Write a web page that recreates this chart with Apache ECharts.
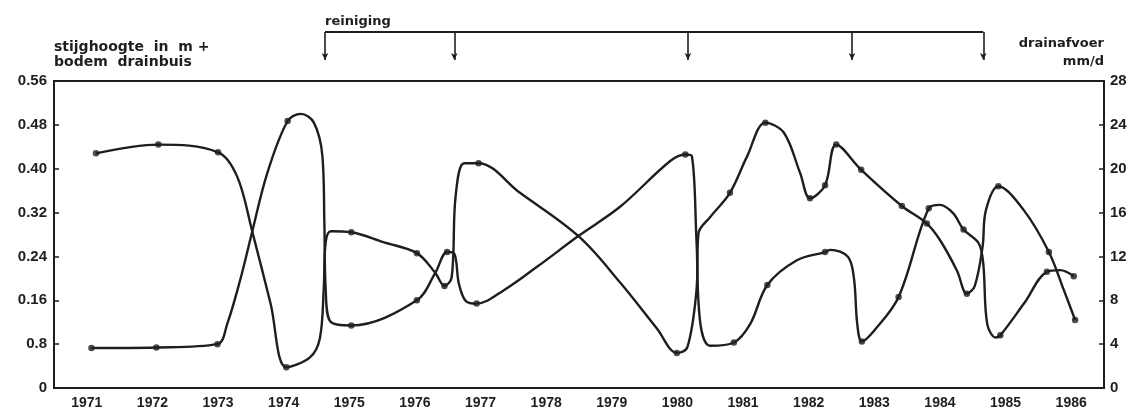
<!DOCTYPE html>
<html>
<head>
<meta charset="utf-8">
<script src="https://cdn.jsdelivr.net/npm/echarts@6/dist/echarts.min.js"></script>
<style>
  html, body { margin: 0; padding: 0; background: #fff; }
  #chart { width: 1135px; height: 413px; }
</style>
</head>
<body>
<div id="chart"></div>
<script>
// years on the x axis (one band per year)
const years = ['1971','1972','1973','1974','1975','1976','1977','1978',
  '1979','1980','1981','1982','1983','1984','1985','1986'];

// left axis tick labels as printed (0.08 printed as "0.8")
const leftTickLabels = ['0','0.8','0.16','0.24','0.32','0.40','0.48','0.56'];

// drain cleanings (reiniging), decimal years
const cleaningYears = [1974.63, 1976.60, 1980.16, 1982.66, 1984.66];

// drainafvoer mm/d: measured points (dots)
const drainDots = [
  [1971.14, 21.4], [1972.09, 22.2], [1973.00, 21.5], [1974.04, 1.9],
  [1975.03, 14.2], [1976.03, 12.3], [1976.45, 9.3], [1976.97, 20.5],
  [1979.99, 3.2], [1980.80, 17.8], [1981.34, 24.2], [1982.02, 17.3],
  [1982.25, 18.5], [1982.42, 22.2], [1982.80, 19.9], [1983.42, 16.6],
  [1983.80, 15.0], [1984.41, 8.6], [1984.89, 18.4], [1985.66, 12.4],
  [1986.06, 6.2]
];
// drainafvoer: other points
const drainCurve = [
  [1973.29, 19.3], [1973.52, 14.3], [1973.80, 7.7],
  [1974.40, 2.8], [1974.55, 4.5], [1974.61, 9.0], [1974.64, 13.3], [1974.72, 14.3],
  [1975.52, 13.3], [1976.31, 10.5], [1976.56, 10.1], [1976.62, 17.5], [1976.75, 20.5],
  [1977.60, 17.8], [1978.50, 13.8], [1979.13, 9.6], [1979.69, 5.4],
  [1980.15, 3.7], [1980.29, 8.9], [1980.32, 14.1], [1980.50, 15.6],
  [1981.06, 21.1], [1981.62, 23.3], [1981.87, 19.6],
  [1984.00, 13.5], [1984.26, 10.7], [1984.53, 9.3], [1984.65, 12.9], [1984.70, 16.2],
  [1985.28, 16.2], [1985.89, 8.9]
];

// stijghoogte in m + bodem drainbuis: measured points (dots)
const headDots = [
  [1971.07, 0.073], [1972.06, 0.074], [1972.99, 0.080], [1974.06, 0.487],
  [1975.03, 0.114], [1976.03, 0.160], [1976.49, 0.248], [1976.94, 0.154],
  [1980.12, 0.426], [1980.86, 0.083], [1981.37, 0.188], [1982.25, 0.248],
  [1982.81, 0.085], [1983.37, 0.166], [1983.83, 0.328], [1984.36, 0.289],
  [1984.92, 0.096], [1985.63, 0.212], [1986.04, 0.204]
];
// stijghoogte: other points
const headCurve = [
  [1973.14, 0.117], [1973.35, 0.203], [1973.52, 0.285], [1973.75, 0.392],
  [1974.26, 0.500], [1974.46, 0.484], [1974.59, 0.423], [1974.62, 0.300],
  [1974.64, 0.180], [1974.72, 0.120],
  [1976.31, 0.210], [1976.60, 0.245], [1976.67, 0.190], [1976.78, 0.158],
  [1977.35, 0.178], [1977.86, 0.221], [1978.50, 0.278], [1979.13, 0.331], [1979.89, 0.414],
  [1980.22, 0.423], [1980.29, 0.270], [1980.35, 0.117], [1980.50, 0.077],
  [1981.11, 0.117], [1981.82, 0.233],
  [1982.33, 0.252], [1982.60, 0.239], [1982.69, 0.200], [1982.74, 0.117],
  [1983.00, 0.105], [1984.00, 0.334], [1984.20, 0.319], [1984.59, 0.264],
  [1984.66, 0.227], [1984.72, 0.117], [1984.85, 0.092],
  [1985.28, 0.154], [1985.83, 0.215]
];

const ink = '#1e1e1e';
const tickFont = { fontFamily: 'Liberation Sans', fontWeight: 'bold', fontSize: 14, color: ink };
const nameFont = { fontFamily: 'DejaVu Sans', fontWeight: 'bold', fontSize: 13, color: ink };

function path(dots, curve) {
  return dots.concat(curve).sort((a, b) => a[0] - b[0]);
}

let chart = echarts.init(document.getElementById('chart'));
let option = {
  backgroundColor: '#fff',
  animation: false,
  grid: [
    { left: 54, right: 31, top: 81, bottom: 25, show: true, borderColor: ink, borderWidth: 2 },
    { left: 54, right: 31, top: 32, height: 28 }
  ],
  xAxis: [
    {
      type: 'category', data: years, gridIndex: 0, boundaryGap: true,
      axisLine: { lineStyle: { color: ink, width: 2 } },
      axisTick: { inside: true, length: 6, lineStyle: { color: ink, width: 1.5 } },
      axisLabel: Object.assign({ margin: 8 }, tickFont)
    },
    { type: 'value', gridIndex: 0, min: 1970.5, max: 1986.5, show: false },
    { type: 'value', gridIndex: 1, min: 1970.5, max: 1986.5, show: false }
  ],
  yAxis: [
    {
      type: 'value', gridIndex: 0, min: 0, max: 0.56, interval: 0.08,
      name: 'stijghoogte  in  m +\nbodem  drainbuis',
      nameLocation: 'end', nameGap: 11,
      nameTextStyle: Object.assign({}, nameFont, { fontSize: 14, align: 'left', verticalAlign: 'bottom', lineHeight: 15 }),
      axisLine: { show: true, lineStyle: { color: ink, width: 2 } },
      axisTick: { show: true, inside: true, length: 5, lineStyle: { color: ink, width: 1.5 } },
      splitLine: { show: false },
      axisLabel: Object.assign({ margin: 7, formatter: (v, i) => leftTickLabels[i] }, tickFont, { fontSize: 15 })
    },
    {
      type: 'value', gridIndex: 0, min: 0, max: 28, interval: 4, position: 'right',
      name: 'drainafvoer\nmm/d',
      nameLocation: 'end', nameGap: 10,
      nameTextStyle: Object.assign({}, nameFont, { align: 'right', verticalAlign: 'bottom', lineHeight: 18 }),
      axisLine: { show: true, lineStyle: { color: ink, width: 2 } },
      axisTick: { show: true, inside: true, length: 5, lineStyle: { color: ink, width: 1.5 } },
      splitLine: { show: false },
      axisLabel: Object.assign({ margin: 6 }, tickFont, { fontSize: 15 })
    },
    { type: 'value', gridIndex: 1, min: 0, max: 1, show: false }
  ],
  series: [
    {
      name: 'stijghoogte', type: 'line', xAxisIndex: 1, yAxisIndex: 0,
      data: path(headDots, headCurve), smooth: 0.35,
      showSymbol: false, lineStyle: { color: ink, width: 2.4 }
    },
    {
      name: 'drainafvoer', type: 'line', xAxisIndex: 1, yAxisIndex: 1,
      data: path(drainDots, drainCurve), smooth: 0.35,
      showSymbol: false, lineStyle: { color: ink, width: 2.4 }
    },
    {
      type: 'scatter', xAxisIndex: 1, yAxisIndex: 0, data: headDots,
      symbolSize: 6.5, itemStyle: { color: ink }
    },
    {
      type: 'scatter', xAxisIndex: 1, yAxisIndex: 1, data: drainDots,
      symbolSize: 6.5, itemStyle: { color: ink }
    },
    {
      name: 'reiniging', type: 'line', xAxisIndex: 2, yAxisIndex: 2,
      data: [
        { value: [cleaningYears[0], 1],
          label: Object.assign({ show: true, formatter: 'reiniging', position: 'top', align: 'left', distance: 4 }, nameFont) },
        [cleaningYears[cleaningYears.length - 1], 1]
      ],
      showSymbol: true, symbol: 'circle', symbolSize: 0.1,
      itemStyle: { color: ink },
      lineStyle: { color: ink, width: 1.8 },
      markLine: {
        silent: true, symbol: ['none', 'arrow'], symbolSize: [5, 7],
        label: { show: false },
        lineStyle: { color: ink, width: 1.6, type: 'solid' },
        data: cleaningYears.map(y => [{ coord: [y, 1] }, { coord: [y, 0] }])
      }
    }
  ]
};
chart.setOption(option);
</script>
</body>
</html>
